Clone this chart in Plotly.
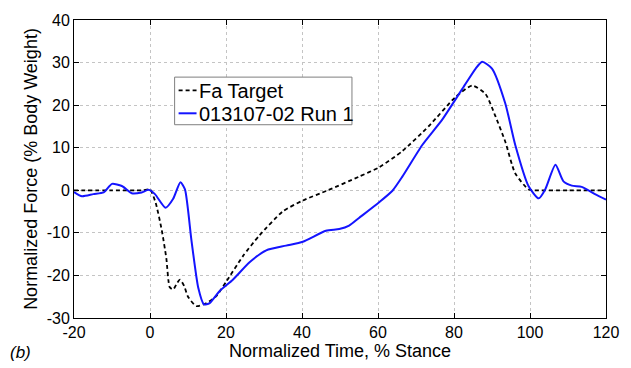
import plotly.graph_objects as go

target_x = [-20, -10, -2, 0, 1.5, 3.1, 4.3, 5.2, 6.1, 7.0, 7.9, 9.0, 10.0, 12.2, 14.9, 17.5, 20.1, 24.5,
            28.8, 34.9, 40.2, 46.8, 55, 60.3, 66.4, 73.4, 80.4, 84.8, 88.3, 90.9, 93.5, 96.1, 99.6, 101,
            110, 120]
target_y = [0, 0, 0, 0.2, -3, -9.4, -16, -22.8, -23.3, -22, -21, -22.5, -25, -27.2, -26.5, -24.8, -21.4,
            -15.4, -10.6, -5, -2.4, 0, 3.2, 5.4, 9.2, 15.1, 21.9, 24.6, 22.6, 17.4, 11.4, 4, 0.2, 0,
            0, 0]

run_x = [-20, -17.9, -14.9, -12.2, -10, -7.4, -4.8, -2.2, -0.4, 1.3, 4.1, 6.1, 8.0, 9.2, 10.9, 12.7,
         14.2, 15.7, 18.4, 21.8, 26.2, 30.6, 35.8, 40.2, 46.3, 49.8, 52.4, 55, 60.3, 63.8, 66.4, 71.7,
         76.9, 82.1, 85.7, 87.4, 90, 93.5, 96.1, 99.6, 102.3, 104, 106.7, 108.8, 111, 113.6, 117.1, 120]
run_y = [-0.4, -1.4, -0.9, -0.5, 1.5, 1.0, -0.7, -0.5, 0.1, -0.9, -4.1, -2.0, 1.9, 0.2, -11.7, -22.9,
         -26.8, -26.5, -23.6, -21, -16.9, -14.1, -13, -12.1, -9.5, -9.1, -8.3, -6.5, -2.8, -0.1, 3.2, 10.7,
         16.6, 23.7, 28.6, 30.2, 28.6, 20.4, 10.7, 1.0, -1.9, 0.2, 6.0, 2.1, 1.1, 0.8, -0.9, -2.2]

x_ticks = [-20, 0, 20, 40, 60, 80, 100, 120]
y_ticks = [-30, -20, -10, 0, 10, 20, 30, 40]
series_names = ["Fa Target", "013107-02 Run 1"]

font = "Liberation Sans, Arial, sans-serif"
BLUE = "#1414ff"
DASH = "4px,3px"

fig = go.Figure()
fig.add_trace(go.Scatter(x=target_x, y=target_y, mode="lines", name=series_names[0],
                         line=dict(color="black", width=1.8, dash=DASH, shape="spline", smoothing=0.6)))
fig.add_trace(go.Scatter(x=run_x, y=run_y, mode="lines", name=series_names[1],
                         line=dict(color=BLUE, width=2, shape="spline", smoothing=0.6)))

axis_common = dict(showline=True, linecolor="black", linewidth=1, mirror="ticks", ticks="inside",
                   ticklen=5, tickcolor="black", showgrid=True, gridcolor="#c4c4c4", griddash="dot",
                   gridwidth=1, zeroline=False, tickfont=dict(family=font, size=16, color="black"))

# plot area in pixels: left 74, right 608, top 13, bottom 326
L, R, T, B = 74, 608, 13, 326
def px(x):
    return (x - L) / (R - L)
def py(y):
    return (B - y) / (B - T)

fig.update_layout(
    width=631, height=368,
    margin=dict(l=L, r=631 - R, t=T, b=368 - B),
    paper_bgcolor="white", plot_bgcolor="white",
    font=dict(family=font, color="black"),
    showlegend=False,
    xaxis=dict(range=[-20, 120], tickvals=x_ticks, ticktext=[str(v) for v in x_ticks],
               title=dict(text="Normalized Time, % Stance", font=dict(size=18, family=font), standoff=2),
               **axis_common),
    yaxis=dict(range=[-30, 40], tickvals=y_ticks, ticktext=[str(v) for v in y_ticks],
               title=dict(text="Normalized Force (% Body Weight)", font=dict(size=18, family=font), standoff=4),
               **axis_common),
)

# MATLAB-style compact legend
fig.add_shape(type="rect", xref="paper", yref="paper", x0=px(175), x1=px(353), y0=py(123), y1=py(73),
              line=dict(color="#7f7f7f", width=1), fillcolor="white", layer="above")
rows = [(87, "black", DASH, 1.8), (111, BLUE, "solid", 2)]
for (ry, col, dsh, w), name in zip(rows, series_names):
    fig.add_shape(type="line", xref="paper", yref="paper", x0=px(179), x1=px(197), y0=py(ry), y1=py(ry),
                  line=dict(color=col, width=w, dash=dsh), layer="above")
    fig.add_annotation(text=name, xref="paper", yref="paper", x=px(197), y=py(ry + 0.5),
                       xanchor="left", yanchor="middle", showarrow=False,
                       font=dict(family=font, size=20, color="black"))

fig.add_annotation(text="<i>(b)</i>", xref="paper", yref="paper", x=-0.125, y=-0.115,
                   xanchor="left", yanchor="middle", showarrow=False,
                   font=dict(family=font, size=17, color="black"))
fig.write_html("out.html")
